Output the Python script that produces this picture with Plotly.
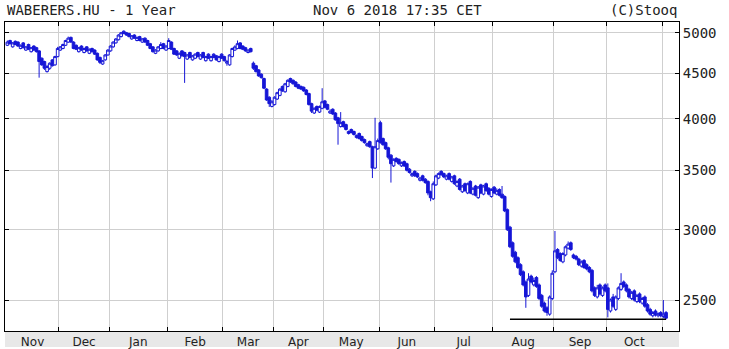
import math
import plotly.graph_objects as go

# ---------------- data ----------------
months = ["Nov", "Dec", "Jan", "Feb", "Mar", "Apr", "May", "Jun", "Jul", "Aug", "Sep", "Oct", "Nov"]
month_labels = ["Nov", "Dec", "Jan", "Feb", "Mar", "Apr", "May", "Jun", "Jul", "Aug", "Sep", "Oct", ""]
bars_per_month = [20, 19, 22, 21, 19, 19, 21, 21, 22, 23, 20, 21, 2]

opens = [
    4840, 4900, 4820, 4890, 4880, 4800, 4870, 4780, 4850, 4760, 4830, 4810, 4770, 4680, 4640, 4520, 4560, 4660, 4600, 4700,
    4780, 4800, 4840, 4880, 4940, 4880, 4840, 4760, 4830, 4750, 4820, 4740, 4800, 4780, 4740, 4690, 4610, 4660, 4720,
    4770, 4820, 4870, 4910, 4950, 5020, 5000, 4990, 4920, 4970, 4900, 4950, 4880, 4930, 4900, 4860, 4820, 4740, 4770, 4800, 4860, 4780,
    4800, 4880, 4800, 4770, 4680, 4770, 4750, 4670, 4750, 4660, 4680, 4750, 4670, 4750, 4650, 4730, 4650, 4730, 4710, 4640, 4730,
    4700, 4620, 4600, 4700, 4780, 4800, 4870, 4830, 4810, 4750, 4800, 4620, 4590, 4540, 4490, 4440, 4320, 4230, 4130,
    4150, 4210, 4250, 4350, 4290, 4350, 4440, 4420, 4400, 4370, 4350, 4340, 4310, 4270, 4160, 4060, 4130, 4070, 4110,
    4190, 4150, 4060, 4100, 4060, 4010, 3920, 3970, 3940, 3850, 3890, 3870, 3810, 3850, 3820, 3790, 3730, 3770, 3720, 3520, 3700,
    3960, 3800, 3760, 3710, 3640, 3540, 3610, 3600, 3540, 3580, 3560, 3510, 3450, 3490, 3470, 3410, 3450, 3420, 3400, 3310, 3250,
    3370, 3430, 3490, 3470, 3420, 3470, 3400, 3450, 3360, 3420, 3310, 3380, 3300, 3400, 3290, 3360, 3260, 3370, 3290, 3380, 3340, 3270,
    3350, 3290, 3330, 3290, 3270, 3160, 3020, 2900, 2830, 2790, 2740, 2690, 2620, 2530, 2660, 2600, 2650, 2600, 2530, 2480, 2450, 2410, 2510,
    2690, 2850, 2820, 2760, 2810, 2860, 2900, 2810, 2800, 2780, 2730, 2770, 2740, 2720, 2700, 2580, 2520, 2600, 2530, 2600,
    2580, 2430, 2520, 2440, 2510, 2570, 2620, 2600, 2570, 2510, 2560, 2490, 2540, 2480, 2520, 2470, 2440, 2400, 2430, 2400, 2420,
    2395, 2420,
]
highs = [
    4900, 4910, 4880, 4900, 4890, 4850, 4880, 4830, 4860, 4820, 4840, 4820, 4780, 4690, 4650, 4600, 4630, 4670, 4710, 4820,
    4830, 4860, 4910, 4950, 4950, 4890, 4850, 4820, 4840, 4810, 4830, 4800, 4810, 4790, 4750, 4700, 4660, 4730, 4790,
    4840, 4890, 4930, 4980, 5010, 5030, 5010, 5000, 4970, 4980, 4950, 4960, 4930, 4940, 4910, 4870, 4830, 4790, 4830, 4880, 4870, 4840,
    4930, 4890, 4810, 4780, 4750, 4780, 4760, 4730, 4760, 4720, 4740, 4760, 4730, 4760, 4710, 4740, 4710, 4740, 4720, 4710, 4740,
    4710, 4660, 4730, 4810, 4840, 4900, 4880, 4840, 4820, 4790, 4810, 4640, 4600, 4550, 4500, 4450, 4330, 4240, 4200,
    4240, 4290, 4330, 4360, 4390, 4430, 4450, 4430, 4410, 4380, 4360, 4350, 4320, 4280, 4170, 4120, 4140, 4140, 4330,
    4200, 4160, 4100, 4110, 4070, 4020, 4070, 3980, 3950, 3880, 3900, 3880, 3840, 3860, 3830, 3800, 3760, 3780, 3730, 4010, 3800,
    3980, 3810, 3770, 3720, 3650, 3610, 3620, 3610, 3580, 3590, 3570, 3520, 3480, 3500, 3480, 3440, 3460, 3430, 3410, 3320, 3400,
    3460, 3480, 3500, 3480, 3460, 3480, 3450, 3460, 3410, 3430, 3370, 3390, 3390, 3410, 3350, 3370, 3360, 3380, 3370, 3390, 3350, 3340,
    3360, 3340, 3340, 3360, 3280, 3170, 3030, 2910, 2840, 2800, 2750, 2700, 2630, 2680, 2670, 2650, 2660, 2610, 2540, 2490, 2460, 2530, 2700,
    2990, 2860, 2830, 2830, 2880, 2910, 2910, 2820, 2810, 2790, 2770, 2780, 2750, 2730, 2710, 2590, 2600, 2610, 2590, 2610,
    2610, 2510, 2540, 2530, 2590, 2680, 2630, 2610, 2580, 2560, 2570, 2540, 2550, 2520, 2530, 2480, 2450, 2430, 2440, 2420, 2430,
    2500, 2430,
]
lows = [
    4830, 4850, 4810, 4840, 4820, 4790, 4800, 4770, 4780, 4750, 4770, 4750, 4450, 4590, 4540, 4510, 4540, 4580, 4590, 4690,
    4770, 4790, 4830, 4870, 4870, 4790, 4780, 4750, 4770, 4740, 4760, 4730, 4750, 4720, 4650, 4610, 4600, 4650, 4710,
    4760, 4810, 4860, 4900, 4940, 4980, 4960, 4940, 4910, 4920, 4890, 4890, 4870, 4870, 4830, 4790, 4750, 4730, 4760, 4790, 4790, 4770,
    4790, 4780, 4720, 4710, 4670, 4700, 4390, 4660, 4680, 4650, 4670, 4690, 4660, 4680, 4640, 4670, 4640, 4680, 4650, 4630, 4670,
    4640, 4590, 4590, 4690, 4770, 4790, 4790, 4780, 4760, 4740, 4750, 4540, 4510, 4460, 4440, 4320, 4190, 4125, 4120,
    4140, 4200, 4240, 4290, 4280, 4340, 4390, 4370, 4340, 4320, 4310, 4290, 4250, 4140, 4060, 4050, 4080, 4060, 4100,
    4110, 4090, 4050, 4040, 3980, 3740, 3910, 3910, 3880, 3840, 3850, 3830, 3800, 3790, 3770, 3750, 3720, 3710, 3430, 3510, 3690,
    3750, 3730, 3690, 3600, 3390, 3530, 3570, 3550, 3530, 3530, 3490, 3470, 3440, 3440, 3430, 3400, 3400, 3380, 3280, 3230, 3240,
    3360, 3420, 3450, 3430, 3410, 3410, 3390, 3370, 3350, 3320, 3300, 3310, 3290, 3290, 3280, 3270, 3250, 3290, 3280, 3310, 3280, 3260,
    3290, 3280, 3270, 3250, 3140, 2990, 2860, 2790, 2750, 2710, 2660, 2590, 2450, 2520, 2610, 2590, 2580, 2500, 2450, 2420, 2400, 2400, 2500,
    2680, 2780, 2760, 2750, 2800, 2850, 2840, 2780, 2770, 2730, 2720, 2710, 2700, 2680, 2550, 2520, 2510, 2530, 2520, 2550,
    2390, 2420, 2450, 2430, 2500, 2560, 2580, 2550, 2510, 2500, 2490, 2480, 2480, 2470, 2450, 2420, 2400, 2390, 2395, 2390, 2390,
    2385, 2378,
]
closes = [
    4880, 4860, 4870, 4850, 4830, 4840, 4810, 4820, 4790, 4810, 4780, 4760, 4640, 4600, 4560, 4580, 4620, 4590, 4700, 4800,
    4820, 4850, 4900, 4930, 4880, 4800, 4790, 4810, 4780, 4800, 4770, 4790, 4760, 4730, 4660, 4630, 4650, 4720, 4780,
    4830, 4880, 4920, 4970, 5000, 4990, 4970, 4950, 4960, 4930, 4940, 4900, 4920, 4880, 4840, 4800, 4760, 4780, 4820, 4850, 4800, 4830,
    4900, 4790, 4730, 4720, 4740, 4710, 4700, 4720, 4690, 4710, 4730, 4700, 4720, 4690, 4700, 4680, 4700, 4690, 4660, 4700, 4680,
    4650, 4640, 4720, 4800, 4820, 4860, 4800, 4790, 4770, 4780, 4760, 4560, 4520, 4470, 4450, 4330, 4200, 4160, 4180,
    4230, 4280, 4320, 4300, 4380, 4420, 4400, 4380, 4350, 4330, 4320, 4300, 4260, 4150, 4080, 4110, 4090, 4130, 4180,
    4120, 4100, 4080, 4050, 3990, 3950, 3960, 3920, 3890, 3870, 3860, 3840, 3830, 3800, 3780, 3760, 3750, 3720, 3520, 3720, 3780,
    3760, 3740, 3700, 3620, 3560, 3600, 3580, 3560, 3570, 3540, 3500, 3480, 3470, 3450, 3440, 3430, 3410, 3390, 3300, 3260, 3380,
    3450, 3470, 3460, 3440, 3450, 3420, 3440, 3380, 3400, 3330, 3360, 3320, 3380, 3300, 3340, 3280, 3350, 3300, 3360, 3320, 3290, 3330,
    3300, 3320, 3280, 3260, 3150, 3000, 2870, 2800, 2760, 2720, 2670, 2600, 2520, 2640, 2620, 2630, 2590, 2510, 2460, 2430, 2420, 2520, 2680,
    2840, 2790, 2770, 2820, 2870, 2890, 2850, 2790, 2780, 2740, 2760, 2720, 2710, 2690, 2560, 2530, 2580, 2540, 2580, 2560,
    2440, 2500, 2460, 2520, 2580, 2610, 2590, 2560, 2520, 2550, 2500, 2530, 2490, 2510, 2460, 2430, 2410, 2420, 2405, 2415, 2400,
    2410, 2385,
]

support_level = 2378
support_first_bar = 190

y_ticks = [2500, 3000, 3500, 4000, 4500, 5000]
y_min, y_max = 2307, 5141

title_left = "WABERERS.HU - 1 Year"
title_mid = "Nov 6 2018 17:35 CET"
title_right = "(C)Stooq"

# ---------------- derived axis helpers ----------------
bar_index = list(range(len(closes)))
month_mids = []
month_bounds = []
start = 0
for n in bars_per_month:
    month_mids.append(start + (n - 1) / 2)
    start += n
    month_bounds.append(start - 0.5)
month_bounds = month_bounds[:-1]

label_vals = [m for m, t in zip(month_mids, month_labels) if t]
label_text = [t for t in month_labels if t]

BLUE = "#1616d6"
GRID = "#cfcfcf"
MONO = "DejaVu Sans Mono"

fig = go.Figure()
fig.add_trace(go.Candlestick(
    x=bar_index, open=opens, high=highs, low=lows, close=closes,
    increasing=dict(line=dict(color=BLUE, width=1), fillcolor="white"),
    decreasing=dict(line=dict(color=BLUE, width=1), fillcolor=BLUE),
    whiskerwidth=0, hoverinfo="skip", showlegend=False,
))
fig.add_trace(go.Scatter(
    x=[support_first_bar, bar_index[-1]], y=[support_level, support_level],
    mode="lines", line=dict(color="black", width=1.5),
    hoverinfo="skip", showlegend=False,
))

W, H = 729, 349
ml, mr, mt, mb = 5, 50, 22, 18
ph = H - mt - mb
pw = W - ml - mr

fig.update_layout(
    width=W, height=H,
    margin=dict(l=ml, r=mr, t=mt, b=mb, pad=0, autoexpand=False),
    paper_bgcolor="white", plot_bgcolor="white",
    showlegend=False,
    boxgap=0, boxgroupgap=0,
    xaxis=dict(
        range=[-0.9, 253.9], rangeslider=dict(visible=False),
        automargin=False,
        tickmode="array", tickvals=label_vals, ticktext=label_text,
        ticks="", showgrid=False, zeroline=False,
        showline=True, linecolor="black", linewidth=1, mirror="allticks",
        tickfont=dict(family="DejaVu Sans", size=12, color="#222"),
        minor=dict(tickmode="array", tickvals=month_bounds, ticks="inside",
                   ticklen=4, tickcolor="black", tickwidth=1,
                   showgrid=True, gridcolor=GRID, gridwidth=1),
        fixedrange=True,
    ),
    yaxis=dict(
        type="log", side="right",
        automargin=False,
        range=[math.log10(y_min), math.log10(y_max)],
        tickmode="array", tickvals=y_ticks, ticktext=[str(v) for v in y_ticks],
        ticks="inside", ticklen=4, tickcolor="black", tickwidth=1,
        showgrid=True, gridcolor=GRID, gridwidth=1, zeroline=False,
        showline=True, linecolor="black", linewidth=1, mirror="allticks",
        tickfont=dict(family=MONO, size=14, color="#222"),
        fixedrange=True,
    ),
    shapes=[dict(type="rect", xref="paper", yref="paper",
                 x0=0, x1=1, y0=-16 / ph, y1=0,
                 fillcolor="#e8e8e8", line=dict(width=0), layer="below")],
    annotations=[
        dict(text=title_left, xref="paper", yref="paper", x=0, y=1 + 12 / ph,
             xanchor="left", yanchor="middle", showarrow=False,
             font=dict(family=MONO, size=14, color="#222")),
        dict(text=title_mid, xref="paper", yref="paper", x=(397 - ml) / pw, y=1 + 12 / ph,
             xanchor="center", yanchor="middle", showarrow=False,
             font=dict(family=MONO, size=14, color="#222")),
        dict(text=title_right, xref="paper", yref="paper", x=1, y=1 + 12 / ph,
             xanchor="right", yanchor="middle", showarrow=False,
             font=dict(family=MONO, size=14, color="#222")),
    ],
)

fig.write_html("out.html", config={"displayModeBar": False, "staticPlot": True})
